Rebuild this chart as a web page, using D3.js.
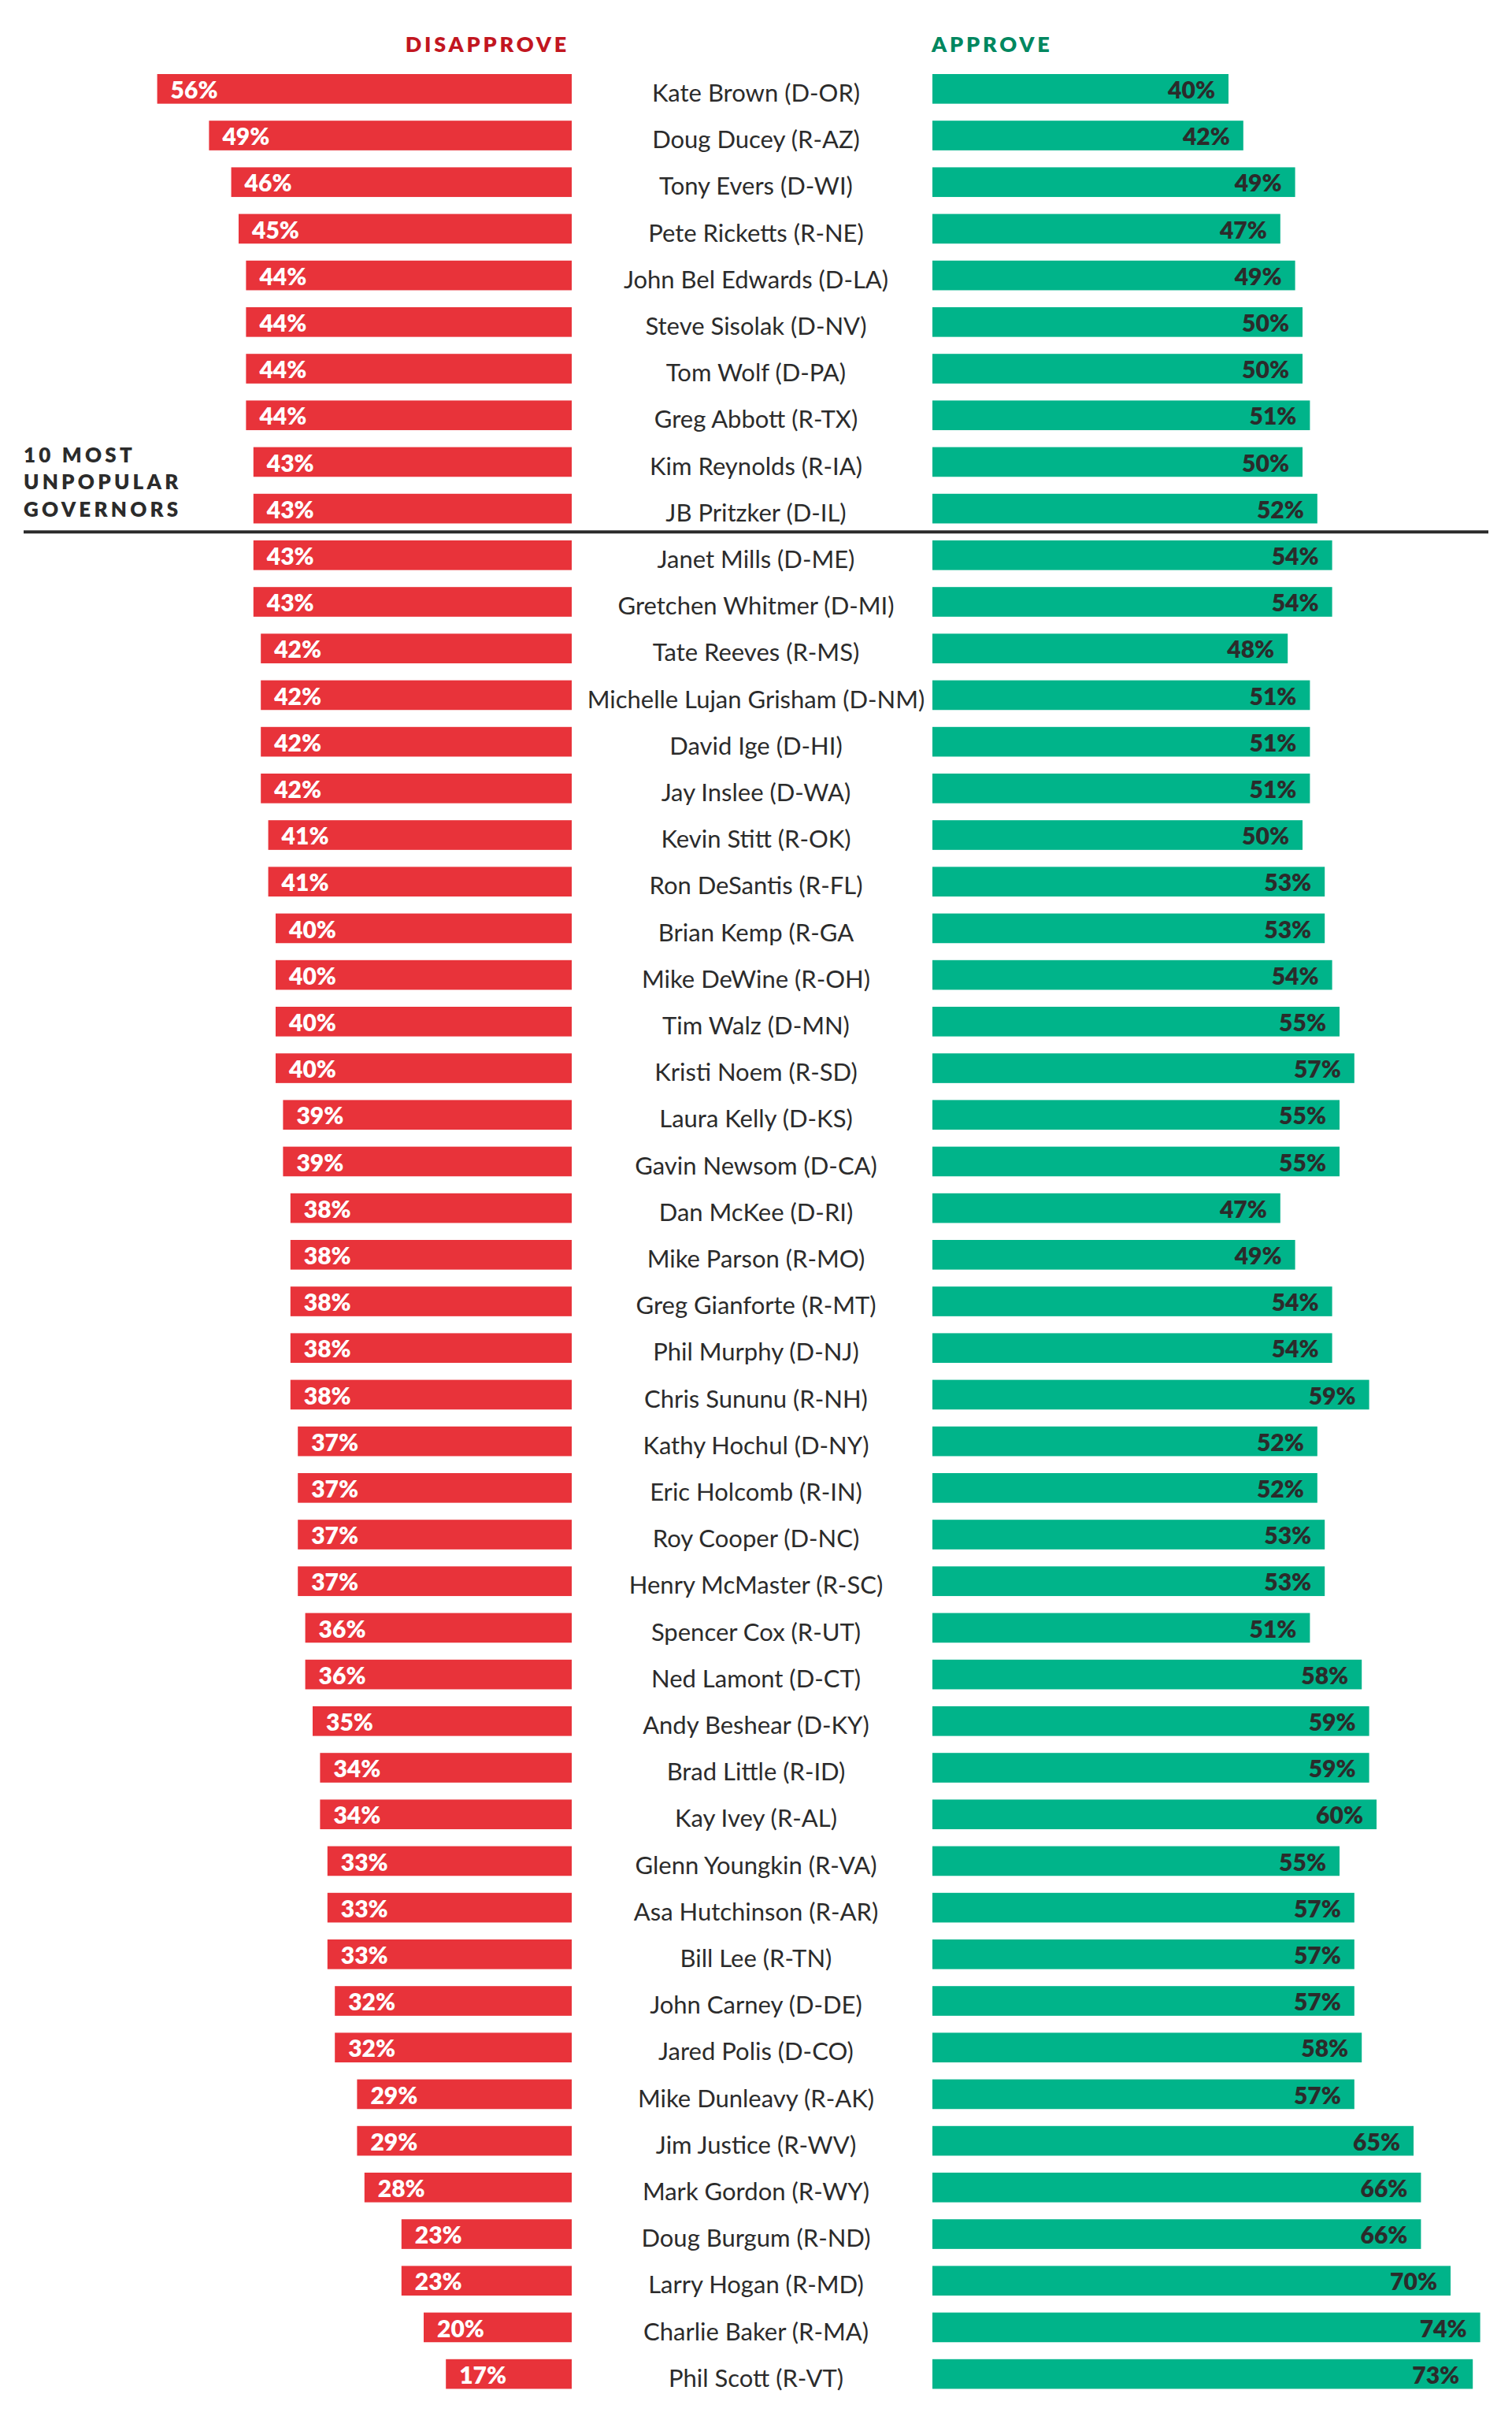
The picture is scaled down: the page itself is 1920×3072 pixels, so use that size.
<!DOCTYPE html>
<html>
<head>
<meta charset="utf-8">
<script src="https://cdn.jsdelivr.net/npm/d3@7"></script>
<style>
  html, body { margin: 0; padding: 0; background: #ffffff; }
  svg { display: block; }
</style>
</head>
<body>
<svg id="chart" width="1920" height="3072"></svg>
<script>
const governors = [
  "Kate Brown (D-OR)", "Doug Ducey (R-AZ)", "Tony Evers (D-WI)", "Pete Ricketts (R-NE)",
  "John Bel Edwards (D-LA)", "Steve Sisolak (D-NV)", "Tom Wolf (D-PA)", "Greg Abbott (R-TX)",
  "Kim Reynolds (R-IA)", "JB Pritzker (D-IL)", "Janet Mills (D-ME)", "Gretchen Whitmer (D-MI)",
  "Tate Reeves (R-MS)", "Michelle Lujan Grisham (D-NM)", "David Ige (D-HI)", "Jay Inslee (D-WA)",
  "Kevin Stitt (R-OK)", "Ron DeSantis (R-FL)", "Brian Kemp (R-GA", "Mike DeWine (R-OH)",
  "Tim Walz (D-MN)", "Kristi Noem (R-SD)", "Laura Kelly (D-KS)", "Gavin Newsom (D-CA)",
  "Dan McKee (D-RI)", "Mike Parson (R-MO)", "Greg Gianforte (R-MT)", "Phil Murphy (D-NJ)",
  "Chris Sununu (R-NH)", "Kathy Hochul (D-NY)", "Eric Holcomb (R-IN)", "Roy Cooper (D-NC)",
  "Henry McMaster (R-SC)", "Spencer Cox (R-UT)", "Ned Lamont (D-CT)", "Andy Beshear (D-KY)",
  "Brad Little (R-ID)", "Kay Ivey (R-AL)", "Glenn Youngkin (R-VA)", "Asa Hutchinson (R-AR)",
  "Bill Lee (R-TN)", "John Carney (D-DE)", "Jared Polis (D-CO)", "Mike Dunleavy (R-AK)",
  "Jim Justice (R-WV)", "Mark Gordon (R-WY)", "Doug Burgum (R-ND)", "Larry Hogan (R-MD)",
  "Charlie Baker (R-MA)", "Phil Scott (R-VT)"
];
const disapprove = [
  56, 49, 46, 45, 44, 44, 44, 44, 43, 43,
  43, 43, 42, 42, 42, 42, 41, 41, 40, 40,
  40, 40, 39, 39, 38, 38, 38, 38, 38, 37,
  37, 37, 37, 36, 36, 35, 34, 34, 33, 33,
  33, 32, 32, 29, 29, 28, 23, 23, 20, 17
];
const approve = [
  40, 42, 49, 47, 49, 50, 50, 51, 50, 52,
  54, 54, 48, 51, 51, 51, 50, 53, 53, 54,
  55, 57, 55, 55, 47, 49, 54, 54, 59, 52,
  52, 53, 53, 51, 58, 59, 59, 60, 55, 57,
  57, 57, 58, 57, 65, 66, 66, 70, 74, 73
];
const headers = { left: "DISAPPROVE", right: "APPROVE" };
const groupLabel = ["10 MOST", "UNPOPULAR", "GOVERNORS"];
const groupSize = 10;

const rows = governors.map((name, i) => ({ name, dis: disapprove[i], app: approve[i] }));

const svg = d3.select("#chart");
const RED = "#e8333a", GREEN = "#00b48a", HEAD_RED = "#c2161f", HEAD_GREEN = "#00875f", INK = "#2b2b2b";
const FONT = "Lato, 'Open Sans', sans-serif";

const y = d3.scaleBand()
  .domain(governors)
  .range([94, 94 + 59.2 * (governors.length - 0.364)])
  .paddingInner(0.364)
  .paddingOuter(0);

const leftEdge = 726, rightEdge = 1184, pxPerPct = 9.4;
const xL = d3.scaleLinear().domain([0, 100]).range([leftEdge, leftEdge - 100 * pxPerPct]);
const xR = d3.scaleLinear().domain([0, 100]).range([rightEdge, rightEdge + 100 * pxPerPct]);
const nameX = 960;

// headers
svg.append("text")
  .attr("x", 723).attr("y", 66)
  .attr("text-anchor", "end")
  .attr("font-family", FONT).attr("font-weight", 800).attr("font-size", 27)
  .attr("letter-spacing", 3.8)
  .attr("fill", HEAD_RED)
  .text(headers.left);
svg.append("text")
  .attr("x", 1183).attr("y", 66)
  .attr("font-family", FONT).attr("font-weight", 800).attr("font-size", 27)
  .attr("letter-spacing", 3.8)
  .attr("fill", HEAD_GREEN)
  .text(headers.right);

const g = svg.append("g");

// disapprove bars
g.selectAll("rect.dis").data(rows).join("rect")
  .attr("class", "dis")
  .attr("x", d => xL(d.dis))
  .attr("y", d => y(d.name))
  .attr("width", d => xL(0) - xL(d.dis))
  .attr("height", y.bandwidth())
  .attr("fill", RED);

g.selectAll("text.dis").data(rows).join("text")
  .attr("class", "dis")
  .attr("x", d => xL(d.dis) + 17)
  .attr("y", d => y(d.name) + 31)
  .attr("font-family", FONT).attr("font-weight", 800).attr("font-size", 30)
  .attr("fill", "#ffffff")
  .text(d => d.dis + "%");

// approve bars
g.selectAll("rect.app").data(rows).join("rect")
  .attr("class", "app")
  .attr("x", xR(0))
  .attr("y", d => y(d.name))
  .attr("width", d => xR(d.app) - xR(0))
  .attr("height", y.bandwidth())
  .attr("fill", GREEN);

g.selectAll("text.app").data(rows).join("text")
  .attr("class", "app")
  .attr("x", d => xR(d.app) - 17)
  .attr("y", d => y(d.name) + 31)
  .attr("text-anchor", "end")
  .attr("font-family", FONT).attr("font-weight", 800).attr("font-size", 30)
  .attr("fill", INK)
  .text(d => d.app + "%");

// names
g.selectAll("text.name").data(rows).join("text")
  .attr("class", "name")
  .attr("x", nameX)
  .attr("y", d => y(d.name) + 35)
  .attr("text-anchor", "middle")
  .attr("font-family", FONT).attr("font-weight", 400).attr("font-size", 31)
  .attr("fill", INK)
  .text(d => d.name);

// divider
const lastTop = governors[groupSize - 1], firstRest = governors[groupSize];
const divY = (y(lastTop) + y.bandwidth() + y(firstRest)) / 2;
svg.append("line")
  .attr("x1", 30).attr("x2", 1890)
  .attr("y1", divY).attr("y2", divY)
  .attr("stroke", INK).attr("stroke-width", 4);

// group label
svg.append("g").selectAll("text").data(groupLabel).join("text")
  .attr("x", 30)
  .attr("y", (d, i) => 587 + i * 34.3)
  .attr("font-family", FONT).attr("font-weight", 800).attr("font-size", 26)
  .attr("letter-spacing", 4.2)
  .attr("fill", INK)
  .text(d => d);
</script>
</body>
</html>
